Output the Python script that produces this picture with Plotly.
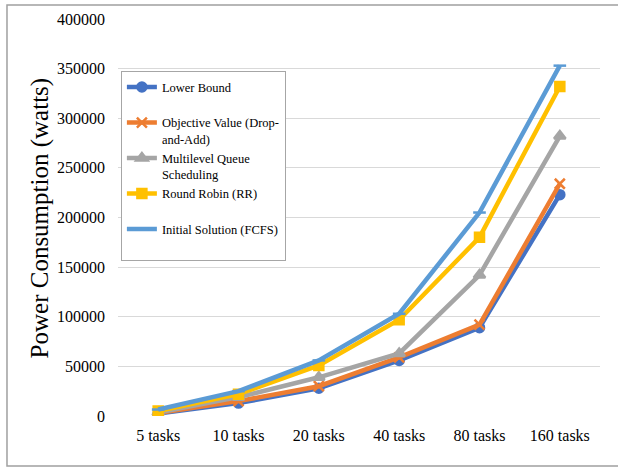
import plotly.graph_objects as go

# Task counts on the x axis
categories = ["5 tasks", "10 tasks", "20 tasks", "40 tasks", "80 tasks", "160 tasks"]

# Power consumption (watts) per scheduling approach
lower_bound = [2500, 13000, 28000, 56000, 89000, 223000]
objective_drop_add = [3000, 15000, 30000, 59000, 92000, 234000]
multilevel_queue = [3500, 19000, 39000, 63000, 142000, 282000]
round_robin = [5000, 22000, 51000, 97000, 180000, 332000]
initial_fcfs = [6500, 25000, 56000, 103000, 205000, 353000]

y_ticks = [0, 50000, 100000, 150000, 200000, 250000, 300000, 350000, 400000]

series = [
    ("Lower Bound<br> ", lower_bound, "#4472C4", "circle", 9),
    ("Objective Value (Drop-<br>and-Add)", objective_drop_add, "#ED7D31", "x-thin-open", 10),
    ("Multilevel Queue<br>Scheduling", multilevel_queue, "#A5A5A5", "triangle-up", 10),
    ("Round Robin (RR)<br> ", round_robin, "#FFC000", "square", 9),
    ("Initial Solution (FCFS)<br> ", initial_fcfs, "#5B9BD5", "line-ew-open", 9),
]

fig = go.Figure()
for name, values, color, symbol, size in series:
    fig.add_trace(go.Scatter(
        x=categories,
        y=values,
        name=name,
        mode="lines+markers",
        line=dict(color=color, width=4.5),
        marker=dict(symbol=symbol, size=size, color=color,
                    line=dict(color=color, width=2.5)),
    ))

serif = "Liberation Serif, Times New Roman, serif"

fig.update_layout(
    width=618,
    height=468,
    paper_bgcolor="white",
    plot_bgcolor="white",
    margin=dict(l=118, r=18, t=19, b=52),
    font=dict(family=serif, color="#000000", size=16),
    showlegend=True,
    legend=dict(
        x=0.006, y=0.868, xanchor="left", yanchor="top",
        bgcolor="white",
        bordercolor="#A6A6A6", borderwidth=1,
        font=dict(family=serif, size=12.5, color="#000000"),
        valign="top",
        itemwidth=30,
    ),
    xaxis=dict(
        type="category",
        range=[-0.5, 5.5],
        showgrid=False,
        showline=False,
        zeroline=False,
        ticks="",
        ticklabelstandoff=8,
        tickfont=dict(family=serif, size=16),
    ),
    yaxis=dict(
        range=[0, 400000],
        tickvals=y_ticks,
        ticktext=[str(v) for v in y_ticks],
        showgrid=True,
        gridcolor="#D9D9D9",
        gridwidth=1,
        zeroline=False,
        showline=False,
        ticks="",
        ticklabelstandoff=12,
        tickfont=dict(family=serif, size=16),
    ),
    annotations=[
        dict(
            text="Power Consumption (watts)",
            xref="paper", yref="paper",
            x=-0.162, y=0.5,
            xanchor="center", yanchor="middle",
            textangle=-90,
            showarrow=False,
            font=dict(family=serif, size=25, color="#000000"),
        )
    ],
    shapes=[
        # outer chart frame
        dict(
            type="rect", xref="paper", yref="paper",
            x0=-0.2303, x1=1.045, y0=-0.126, y1=1.035,
            line=dict(color="#A0A0A0", width=1.5),
            fillcolor="rgba(0,0,0,0)",
            layer="below",
        )
    ],
)

fig.write_html("out.html")
